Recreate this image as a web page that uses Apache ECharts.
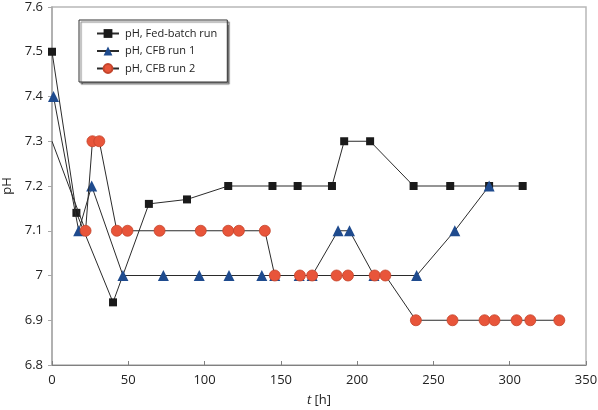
<!DOCTYPE html>
<html>
<head>
<meta charset="utf-8">
<script src="https://cdn.jsdelivr.net/npm/echarts@6/dist/echarts.min.js"></script>
<style>html,body{margin:0;padding:0;background:#fff}#c{width:598px;height:410px}</style>
</head>
<body>
<div id="c"></div>
<script>
// Data
const seriesNames = ['pH, Fed-batch run', 'pH, CFB run 1', 'pH, CFB run 2'];
const fedT = [0, 16, 40, 63.5, 88.5, 115.5, 144.5, 161, 183.5, 191.5, 208.5, 237, 261, 286.5, 308.5];
const fedPH = [7.5, 7.14, 6.94, 7.16, 7.17, 7.2, 7.2, 7.2, 7.2, 7.3, 7.3, 7.2, 7.2, 7.2, 7.2];
const cfb1T = [1, 17.5, 26, 46.5, 73, 96.5, 116, 137.5, 146, 162, 170.5, 187.5, 195, 211, 239, 264, 286.5];
const cfb1PH = [7.4, 7.1, 7.2, 7.0, 7.0, 7.0, 7.0, 7.0, 7.0, 7.0, 7.0, 7.1, 7.1, 7.0, 7.0, 7.1, 7.2];
const cfb2T = [0, 22, 26.5, 31, 42.5, 49.5, 70.5, 97.5, 115.5, 122.5, 139.5, 146, 162.5, 170.5, 186.5, 194, 211.5, 218.5, 238.5, 262.5, 283.5, 290, 304.5, 313.5, 332.5];
const cfb2PH = [7.3, 7.1, 7.3, 7.3, 7.1, 7.1, 7.1, 7.1, 7.1, 7.1, 7.1, 7.0, 7.0, 7.0, 7.0, 7.0, 7.0, 7.0, 6.9, 6.9, 6.9, 6.9, 6.9, 6.9, 6.9];
const xMin = 0, xMax = 350, xStep = 50;
const yMin = 6.8, yMax = 7.6, yStep = 0.1;

const zip = (t, v) => t.map((x, i) => [x, v[i]]);
const cfb2Data = zip(cfb2T, cfb2PH).map((p, i) => i === 0 ? { value: p, symbol: 'none' } : p);

const chart = echarts.init(document.getElementById('c'), null, { renderer: 'canvas' });
const font = 'Open Sans, Noto Sans, sans-serif';
chart.setOption({
  animation: false,
  backgroundColor: '#fff',
  textStyle: { fontFamily: font },
  grid: { left: 52, right: 12, top: 7, bottom: 45, containLabel: false, outerBoundsMode: 'none', show: true, borderColor: '#b8b8b8', borderWidth: 1.5, backgroundColor: 'transparent' },
  legend: {
    orient: 'vertical', left: 79, top: 20,
    padding: [8, 10, 8, 17], itemGap: 6.5, itemWidth: 22, itemHeight: 11,
    borderColor: '#333', borderWidth: 1, backgroundColor: '#fff',
    shadowColor: 'rgba(0,0,0,0.5)', shadowOffsetX: 2, shadowOffsetY: 2, shadowBlur: 1,
    textStyle: { fontSize: 11, color: '#222', fontFamily: font, padding: [0, 0, 0, 1] },
    data: seriesNames
  },
  xAxis: {
    type: 'value', min: xMin, max: xMax, interval: xStep,
    name: '{i|t} [h]', nameLocation: 'middle', nameGap: 29,
    nameTextStyle: { fontSize: 13, color: '#222', rich: { i: { fontStyle: 'italic', fontSize: 13, color: '#222' } } },
    axisLine: { lineStyle: { color: '#808080', width: 1 } },
    axisTick: { inside: true, length: 4, lineStyle: { color: '#808080' } },
    axisLabel: { fontSize: 13, color: '#222', margin: 9 },
    splitLine: { show: false }
  },
  yAxis: {
    type: 'value', min: yMin, max: yMax, interval: yStep,
    name: 'pH', nameLocation: 'middle', nameGap: 38, nameRotate: 90,
    nameTextStyle: { fontSize: 13, color: '#222' },
    axisLine: { show: true, lineStyle: { color: '#a8a8a8', width: 1.5 } },
    axisTick: { show: true, inside: false, length: 4, lineStyle: { color: '#a8a8a8' } },
    axisLabel: { fontSize: 13, color: '#222', margin: 9, formatter: v => String(Math.round(v * 10) / 10) },
    splitLine: { show: false }
  },
  series: [
    {
      name: seriesNames[0], type: 'line', data: zip(fedT, fedPH),
      symbol: 'rect', symbolSize: 8, showAllSymbol: true,
      lineStyle: { color: '#2b2b2b', width: 1 },
      itemStyle: { color: '#1a1a1a' }, z: 2
    },
    {
      name: seriesNames[1], type: 'line', data: zip(cfb1T, cfb1PH),
      symbol: 'triangle', symbolSize: 11, showAllSymbol: true,
      lineStyle: { color: '#2b2b2b', width: 1 },
      itemStyle: { color: '#1f4b8e' }, z: 3
    },
    {
      name: seriesNames[2], type: 'line', data: cfb2Data,
      symbol: 'circle', symbolSize: 11, showAllSymbol: true,
      lineStyle: { color: '#2b2b2b', width: 1 },
      itemStyle: { color: '#e8553a', borderColor: '#c4452c', borderWidth: 0.8 }, z: 4
    }
  ]
});
</script>
</body>
</html>
